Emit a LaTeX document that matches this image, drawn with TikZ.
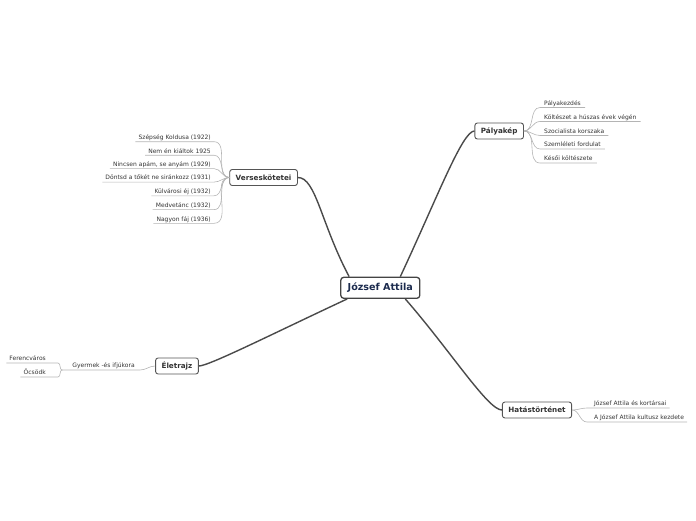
\documentclass[tikz,border=0pt]{standalone}
\usepackage{fontspec}
\setmainfont{DejaVu Sans}
\definecolor{boxgray}{HTML}{555555}
\definecolor{textgray}{HTML}{333333}
\definecolor{navy}{HTML}{1C2B4E}
\definecolor{linegray}{HTML}{4A4A4A}
\definecolor{twiggray}{HTML}{B4B4B4}
\tikzset{
  mainbox/.style={draw=boxgray, line width=0.9pt, rounded corners=2.5pt, fill=white,
    font=\fontsize{7.2}{8.5}\selectfont\bfseries, text=textgray, minimum height=16pt,
    inner xsep=6pt, inner ysep=0pt},
  centerbox/.style={draw=boxgray!80!black, line width=1.3pt, rounded corners=3pt, fill=white,
    font=\fontsize{9.6}{11.5}\selectfont\bfseries, text=navy, minimum height=21pt,
    minimum width=79pt, inner sep=0pt},
  leaf/.style={font=\fontsize{6.0}{7}\selectfont, text=textgray, inner xsep=3pt,
    inner ysep=1.5pt, text height=4.5pt, text depth=0.5pt},
  branch/.style={draw=linegray, line width=1.4pt},
  twig/.style={draw=twiggray, line width=0.6pt},
}
\begin{document}
\begin{tikzpicture}[x=1pt,y=-1pt]
\useasboundingbox (0,0) rectangle (696,520);
% main nodes
\node[centerbox] (C) at (380.3,287.8) {József Attila};
\node[mainbox] (V) at (263.6,177.5) {Verseskötetei};
\node[mainbox] (P) at (499.2,131) {Pályakép};
\node[mainbox] (E) at (177,366) {Életrajz};
\node[mainbox] (H) at (537,410) {Hatástörténet};
% main connectors
\draw[branch] ([xshift=9pt]C.north west) to[out=118,in=0,out distance=60pt,in distance=18pt] (V.east);
\draw[branch] ([xshift=20pt]C.north) to[out=65,in=180,out distance=90pt,in distance=12pt] (P.west);
\draw[branch] ([xshift=7pt]C.south west) to[out=205,in=0,out distance=80pt,in distance=10pt] (E.east);
\draw[branch] ([xshift=25pt]C.south) to[out=-49,in=180,out distance=70pt,in distance=14pt] (H.west);
% Verseskötetei children
\node[leaf,anchor=south east] (v1) at (214,141.7) {Szépség Koldusa (1922)};
\node[leaf,anchor=south east] (v2) at (214,155.2) {Nem én kiáltok 1925};
\node[leaf,anchor=south east] (v3) at (214,168.6) {Nincsen apám, se anyám (1929)};
\node[leaf,anchor=south east] (v4) at (214,182.1) {Döntsd a tőkét ne siránkozz (1931)};
\node[leaf,anchor=south east] (v5) at (214,195.8) {Külvárosi éj (1932)};
\node[leaf,anchor=south east] (v6) at (214,209.6) {Medvetánc (1932)};
\node[leaf,anchor=south east] (v7) at (214,223.3) {Nagyon fáj (1936)};
\foreach \n in {v1,v2,v3,v4,v5,v6,v7}
  \draw[twig] (V.west) to[out=180,in=0] (\n.south east) -- (\n.south west);
% Pályakép children
\node[leaf,anchor=south west,inner xsep=4pt] (p1) at (540,107.5) {Pályakezdés};
\node[leaf,anchor=south west,inner xsep=4pt] (p2) at (540,121.5) {Költészet a húszas évek végén};
\node[leaf,anchor=south west,inner xsep=4pt] (p3) at (540,135.5) {Szocialista korszaka};
\node[leaf,anchor=south west,inner xsep=4pt] (p4) at (540,149) {Szemléleti fordulat};
\node[leaf,anchor=south west,inner xsep=4pt] (p5) at (540,163) {Késői költészete};
\foreach \n in {p1,p2,p3,p4,p5}
  \draw[twig] (P.east) to[out=0,in=180] (\n.south west) -- (\n.south east);
% Életrajz children
\node[leaf,anchor=south east,inner xsep=5pt] (e1) at (140,370) {\hspace*{5pt}Gyermek -és ifjúkora};
\draw[twig] (E.west) to[out=180,in=0] (e1.south east) -- (e1.south west);
\node[leaf,anchor=south east] (g1) at (58,363) {Ferencváros\hspace*{9pt}};
\node[leaf,anchor=south east] (g2) at (58,377) {Öcsödk\hspace*{9pt}};
\foreach \n in {g1,g2}
  \draw[twig] (e1.south west) to[out=180,in=0] (\n.south east) -- (\n.south west);
% Hatástörténet children
\node[leaf,anchor=south west] (h1) at (587,408) {\hspace*{4pt}József Attila és kortársai};
\node[leaf,anchor=south west] (h2) at (587,422) {\hspace*{4pt}A József Attila kultusz kezdete};
\foreach \n in {h1,h2}
  \draw[twig] (H.east) to[out=0,in=180] (\n.south west) -- (\n.south east);
\end{tikzpicture}
\end{document}
